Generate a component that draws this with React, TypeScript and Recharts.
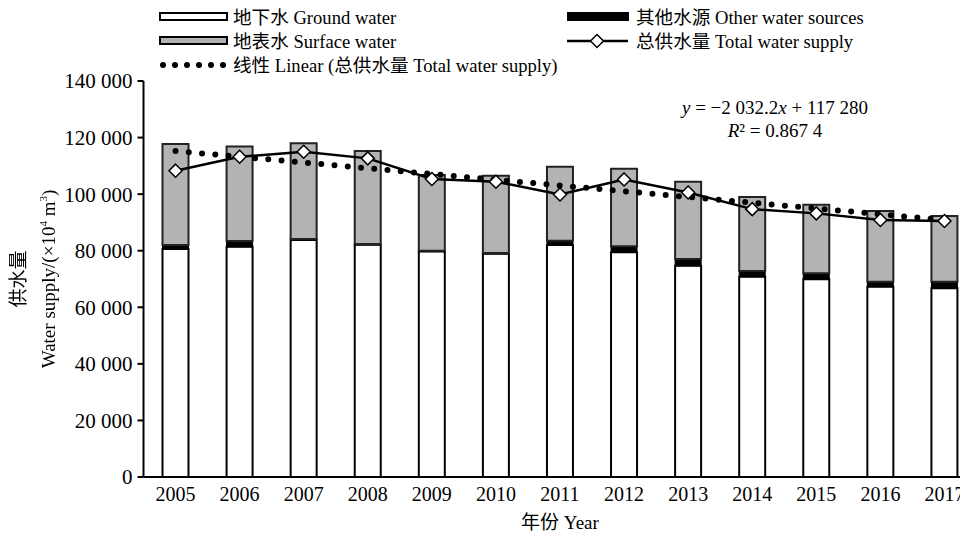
import { ComposedChart, Bar, Line, XAxis, YAxis } from 'recharts'

const years = ['2005', '2006', '2007', '2008', '2009', '2010', '2011', '2012', '2013', '2014', '2015', '2016', '2017']
const groundWater = [80600, 81400, 83800, 82100, 79700, 78900, 82000, 79500, 74700, 70800, 69900, 67300, 66700]
const otherSources = [1400, 2000, 300, 300, 300, 300, 1500, 2100, 2350, 2000, 2100, 1700, 2300]
const surfaceWater = [35700, 33400, 33900, 32850, 26750, 27300, 26200, 27400, 27350, 26180, 24270, 25030, 23260]
const totalSupply = [108300, 113200, 115000, 112650, 105340, 104400, 99900, 105200, 100600, 94700, 93200, 90850, 90500]
// trend end points from y = -2032.2x + 117280
const trendLine = [115250, null, null, null, null, null, null, null, null, null, null, null, 90860]
const yTicks = [0, 20000, 40000, 60000, 80000, 100000, 120000, 140000]

const data = years.map((year, i) => ({
  year,
  ground: groundWater[i],
  other: otherSources[i],
  surface: surfaceWater[i],
  total: totalSupply[i],
  trend: trendLine[i]
}))

const FONT = "'Liberation Serif', 'Times New Roman', 'Noto Sans CJK SC', serif"

const fmt = (v: number) => String(v).replace(/\B(?=(\d{3})+(?!\d))/g, ' ')

const Diamond = (props: any) => {
  const { cx, cy } = props
  if (cx == null || cy == null) return null
  const r = 6.5
  return (
    <path
      d={`M${cx},${cy - r}L${cx + r},${cy}L${cx},${cy + r}L${cx - r},${cy}Z`}
      fill="#fff"
      stroke="#000"
      strokeWidth={1.5}
    />
  )
}

function Overlay() {
  // positions relative to wrapper (page minus 8px body margin)
  return (
    <svg
      style={{ position: 'absolute', left: 0, top: 0, pointerEvents: 'none' }}
      width={968}
      height={530}
      fontFamily={FONT}
      fill="#000"
    >
      <rect x={152} y={5} width={67} height={7} fill="#fff" stroke="#000" strokeWidth={2} />
      <rect x={152} y={29} width={67} height={7} fill="#b3b3b3" stroke="#000" strokeWidth={2} />
      {[0, 1, 2, 3, 4, 5].map((k) => (
        <circle key={k} cx={155 + k * 12} cy={57} r={3} fill="#000" />
      ))}
      <rect x={559} y={4} width={62} height={9} fill="#000" />
      <line x1={559} y1={33} x2={620} y2={33} stroke="#000" strokeWidth={2.5} />
      <Diamond cx={589} cy={33} />
      <g fontSize={18.6}>
        <text x={225} y={16}>地下水 Ground water</text>
        <text x={225} y={40}>地表水 Surface water</text>
        <text x={225} y={64}>线性 Linear (总供水量 Total water supply)</text>
        <text x={628} y={16}>其他水源 Other water sources</text>
        <text x={628} y={40}>总供水量 Total water supply</text>
      </g>
      <g fontSize={19}>
        <text x={767} y={106} textAnchor="middle">
          <tspan fontStyle="italic">y</tspan> = −2 032.2<tspan fontStyle="italic">x</tspan> + 117 280
        </text>
        <text x={767} y={129} textAnchor="middle">
          <tspan fontStyle="italic">R</tspan>² = 0.867 4
        </text>
        <text x={552} y={521} textAnchor="middle">年份 Year</text>
      </g>
    </svg>
  )
}

function YLabel() {
  return (
    <div
      style={{
        position: 'absolute',
        left: 26,
        top: 271,
        fontFamily: FONT,
        fontSize: 19,
        lineHeight: '24px',
        whiteSpace: 'nowrap',
        textAlign: 'center',
        color: '#000',
        filter: 'grayscale(1)',
        transform: 'translate(-50%, -50%) rotate(-90deg)'
      }}
    >
      供水量
      <br />
      Water supply/(×10<sup style={{ fontSize: 11 }}>4</sup> m<sup style={{ fontSize: 11 }}>3</sup>)
    </div>
  )
}

export default function App() {
  return (
    <div style={{ position: 'relative', width: 968, height: 530, overflow: 'hidden' }}>
      <style>{'html,body{overflow:hidden}'}</style>
      <ComposedChart
        width={972}
        height={530}
        data={data}
        margin={{ top: 73, right: 3.5, bottom: 31, left: 0 }}
        barSize={26}
      >
        <XAxis
          dataKey="year"
          axisLine={{ stroke: '#000', strokeWidth: 2 }}
          tickLine={false}
          tickMargin={4}
          height={30}
          tick={{ fill: '#000', fontSize: 20, fontFamily: FONT }}
          interval={0}
        />
        <YAxis
          width={135.5}
          domain={[0, 140000]}
          ticks={yTicks}
          tickFormatter={fmt}
          axisLine={{ stroke: '#000', strokeWidth: 2 }}
          tickLine={{ stroke: '#000', strokeWidth: 2 }}
          tickSize={6}
          tickMargin={5}
          tick={{ fill: '#000', fontSize: 21, fontFamily: FONT }}
        />
        <Bar dataKey="ground" stackId="a" fill="#fff" stroke="#000" strokeWidth={2} isAnimationActive={false} />
        <Bar dataKey="other" stackId="a" fill="#000" stroke="#000" strokeWidth={1} isAnimationActive={false} />
        <Bar dataKey="surface" stackId="a" fill="#b3b3b3" stroke="#222" strokeWidth={2} isAnimationActive={false} />
        <Line
          dataKey="trend"
          connectNulls
          stroke="#000"
          strokeWidth={6}
          strokeDasharray="0 13.3"
          strokeLinecap="round"
          dot={false}
          activeDot={false}
          isAnimationActive={false}
        />
        <Line
          dataKey="total"
          type="linear"
          stroke="#000"
          strokeWidth={2.5}
          dot={<Diamond />}
          activeDot={false}
          isAnimationActive={false}
        />
      </ComposedChart>
      <Overlay />
      <YLabel />
    </div>
  )
}
